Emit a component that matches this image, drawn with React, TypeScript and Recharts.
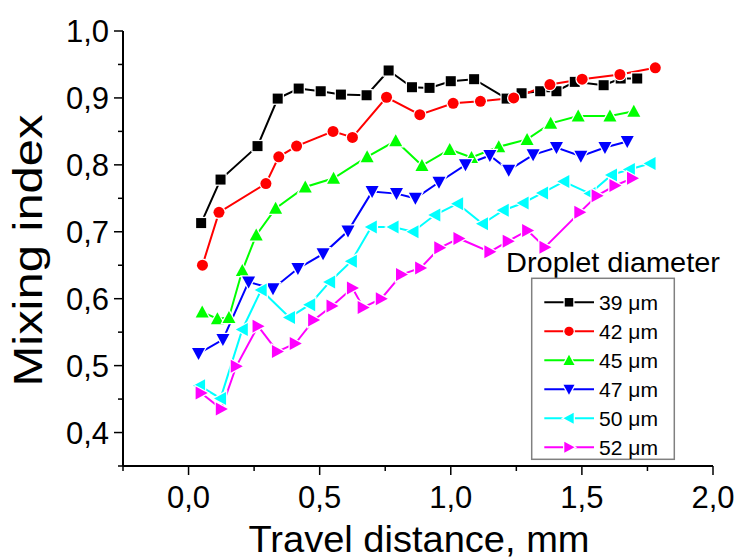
import { LineChart, Line, XAxis, YAxis, Legend, Label } from 'recharts';

const FONT = '"Liberation Sans", Arial, Helvetica, sans-serif';

// Travel distance, mm
const dist39 = [0.048, 0.122, 0.263, 0.34, 0.42, 0.504, 0.581, 0.679, 0.763, 0.852, 0.919, 1.0, 1.089, 1.213, 1.27, 1.341, 1.403, 1.473, 1.583, 1.648, 1.711];
const dist42 = [0.053, 0.116, 0.295, 0.344, 0.412, 0.551, 0.625, 0.755, 0.882, 1.009, 1.113, 1.24, 1.378, 1.501, 1.645, 1.78];
const dist45 = [0.052, 0.11, 0.154, 0.205, 0.258, 0.332, 0.445, 0.553, 0.681, 0.79, 0.89, 0.996, 1.079, 1.183, 1.291, 1.381, 1.486, 1.607, 1.698];
const dist47 = [0.038, 0.131, 0.229, 0.322, 0.417, 0.513, 0.608, 0.7, 0.793, 0.865, 0.955, 1.056, 1.149, 1.221, 1.314, 1.403, 1.496, 1.588, 1.673];
const dist50 = [0.042, 0.122, 0.205, 0.277, 0.385, 0.462, 0.538, 0.621, 0.697, 0.78, 0.856, 0.939, 1.026, 1.121, 1.2, 1.276, 1.35, 1.431, 1.531, 1.613, 1.681, 1.76];
const dist52 = [0.048, 0.125, 0.182, 0.265, 0.339, 0.407, 0.477, 0.547, 0.625, 0.666, 0.735, 0.812, 0.885, 0.958, 1.031, 1.149, 1.219, 1.293, 1.359, 1.492, 1.558, 1.626, 1.693];

// Mixing index
const mix39 = [0.713, 0.778, 0.828, 0.899, 0.914, 0.91, 0.905, 0.904, 0.941, 0.916, 0.915, 0.925, 0.928, 0.899, 0.907, 0.91, 0.91, 0.924, 0.919, 0.929, 0.929];
const mix42 = [0.65, 0.729, 0.772, 0.812, 0.828, 0.85, 0.841, 0.901, 0.875, 0.892, 0.895, 0.9, 0.92, 0.928, 0.935, 0.945];
const mix45 = [0.58, 0.57, 0.572, 0.642, 0.695, 0.735, 0.767, 0.78, 0.812, 0.836, 0.799, 0.823, 0.811, 0.827, 0.838, 0.862, 0.873, 0.873, 0.88];
const mix47 = [0.518, 0.539, 0.625, 0.615, 0.645, 0.667, 0.701, 0.76, 0.757, 0.75, 0.774, 0.8, 0.814, 0.792, 0.815, 0.826, 0.813, 0.826, 0.835];
const mix50 = [0.47, 0.451, 0.554, 0.613, 0.572, 0.591, 0.625, 0.656, 0.707, 0.707, 0.7, 0.725, 0.742, 0.712, 0.732, 0.743, 0.758, 0.775, 0.757, 0.785, 0.793, 0.802];
const mix52 = [0.459, 0.435, 0.499, 0.559, 0.521, 0.533, 0.568, 0.589, 0.616, 0.587, 0.6, 0.636, 0.646, 0.676, 0.69, 0.67, 0.686, 0.702, 0.677, 0.729, 0.754, 0.769, 0.78];

const xTicks = [-0.25, 0, 0.25, 0.5, 0.75, 1.0, 1.25, 1.5, 1.75, 2.0];
const yTicks = [0.35, 0.4, 0.45, 0.5, 0.55, 0.6, 0.65, 0.7, 0.75, 0.8, 0.85, 0.9, 0.95, 1.0];

type Shape = 'square' | 'circle' | 'up' | 'down' | 'left' | 'right';

const zip = (xs: number[], ys: number[]) => xs.map((x, i) => ({ x, y: ys[i] }));

const series = [
  { name: '39 μm', color: '#000000', shape: 'square' as Shape, data: zip(dist39, mix39) },
  { name: '42 μm', color: '#ff0000', shape: 'circle' as Shape, data: zip(dist42, mix42) },
  { name: '45 μm', color: '#00ff00', shape: 'up' as Shape, data: zip(dist45, mix45) },
  { name: '47 μm', color: '#0000ff', shape: 'down' as Shape, data: zip(dist47, mix47) },
  { name: '50 μm', color: '#00ffff', shape: 'left' as Shape, data: zip(dist50, mix50) },
  { name: '52 μm', color: '#ff00ff', shape: 'right' as Shape, data: zip(dist52, mix52) },
];

const fmt = (v: number) => v.toFixed(1).replace('.', ',');

// symbol with a white halo so the line stops short of it
const Marker = ({ shape, cx, cy, color, k = 1 }: { shape: Shape; cx: number; cy: number; color: string; k?: number }) => {
  const common = { fill: color, stroke: '#fff', strokeWidth: 2.5, paintOrder: 'stroke' as any };
  const a = 6.5 * k;
  const b = 5.5 * k;
  switch (shape) {
    case 'square':
      return <rect x={cx - 5 * k} y={cy - 5 * k} width={10 * k} height={10 * k} {...common} />;
    case 'circle':
      return <circle cx={cx} cy={cy} r={5.5 * k} {...common} />;
    case 'up':
      return <polygon points={`${cx},${cy - a} ${cx + a},${cy + b} ${cx - a},${cy + b}`} {...common} />;
    case 'down':
      return <polygon points={`${cx},${cy + a} ${cx + a},${cy - b} ${cx - a},${cy - b}`} {...common} />;
    case 'left':
      return <polygon points={`${cx - a},${cy} ${cx + b},${cy - a} ${cx + b},${cy + a}`} {...common} />;
    default:
      return <polygon points={`${cx + a},${cy} ${cx - b},${cy - a} ${cx - b},${cy + a}`} {...common} />;
  }
};

const XTick = (props: any) => {
  const { x, y, payload } = props;
  const v = payload.value;
  const major = Math.abs(v * 2 - Math.round(v * 2)) < 1e-6;
  return (
    <g>
      <line x1={x} x2={x} y1={y} y2={y + (major ? 9 : 5)} stroke="#000" strokeWidth={1.5} />
      {major && (
        <text x={x} y={y + 42} textAnchor="middle" fontSize={31} fontFamily={FONT} fill="#000">
          {fmt(v)}
        </text>
      )}
    </g>
  );
};

const YTick = (props: any) => {
  const { x, y, payload } = props;
  const v = payload.value;
  const major = Math.abs(v * 10 - Math.round(v * 10)) < 1e-6;
  return (
    <g>
      <line x1={x} x2={x - (major ? 9 : 5)} y1={y} y2={y} stroke="#000" strokeWidth={1.5} />
      {major && (
        <text x={x - 14} y={y + 11} textAnchor="end" fontSize={31} fontFamily={FONT} fill="#000">
          {fmt(v)}
        </text>
      )}
    </g>
  );
};

const LegendBox = () => (
  <svg width={230} height={230} style={{ overflow: 'visible' }}>
    <text x={6} y={31.7} fontSize={28.5} fontFamily={FONT} fill="#000" textLength={214} lengthAdjust="spacingAndGlyphs">
      Droplet diameter
    </text>
    <rect x={31.7} y={38.3} width={142.6} height={181} fill="#fff" stroke="#808080" strokeWidth={1.5} />
    {series.map((s, i) => {
      const cy = 62.3 + i * 29;
      return (
        <g key={s.name}>
          <line x1={44.3} x2={94} y1={cy} y2={cy} stroke={s.color} strokeWidth={2} />
          <Marker shape={s.shape} cx={69} cy={cy} color={s.color} k={0.85} />
          <text x={99} y={cy + 7.5} fontSize={21} fontFamily={FONT} fill="#000" textLength={59} lengthAdjust="spacingAndGlyphs">
            {s.name}
          </text>
        </g>
      );
    })}
  </svg>
);

export default function App() {
  return (
    <div style={{ position: 'absolute', left: 0, top: 0, width: 743, height: 559, background: '#fff' }}>
      <LineChart width={743} height={559} margin={{ top: 31, right: 30, bottom: 0, left: 0 }}>
        <XAxis
          type="number"
          dataKey="x"
          domain={[-0.25, 2]}
          ticks={xTicks}
          allowDataOverflow
          height={93}
          tickSize={0}
          tickMargin={0}
          tickLine={false}
          tick={<XTick />}
          axisLine={{ stroke: '#000', strokeWidth: 2 }}
        >
          <Label
            content={(p: any) => {
              const vb = p.viewBox;
              return (
                <text x={vb.x + vb.width / 2 + 1} y={551.7} textAnchor="middle" fontSize={37.5} fontFamily={FONT} fill="#000" textLength={341} lengthAdjust="spacingAndGlyphs">
                  Travel distance, mm
                </text>
              );
            }}
          />
        </XAxis>
        <YAxis
          type="number"
          domain={[0.35, 1.0]}
          ticks={yTicks}
          allowDataOverflow
          width={123}
          tickSize={0}
          tickMargin={0}
          tickLine={false}
          tick={<YTick />}
          axisLine={{ stroke: '#000', strokeWidth: 2 }}
        >
          <Label
            content={(p: any) => {
              const vb = p.viewBox;
              const cy = vb.y + vb.height / 2 + 2;
              return (
                <text transform={`translate(41.5, ${cy}) rotate(-90)`} textAnchor="middle" fontSize={40} fontFamily={FONT} fill="#000" textLength={272} lengthAdjust="spacingAndGlyphs">
                  Mixing index
                </text>
              );
            }}
          />
        </YAxis>
        <Legend
          layout="horizontal"
          verticalAlign="middle"
          align="center"
          wrapperStyle={{ position: 'absolute', left: 500, top: 240, width: 230, height: 230 }}
          content={() => <LegendBox />}
        />
        {series.map((s) => (
          <Line
            key={s.name}
            name={s.name}
            data={s.data}
            dataKey="y"
            type="linear"
            stroke={s.color}
            strokeWidth={2}
            isAnimationActive={false}
            activeDot={false}
            dot={(p: any) => <Marker key={`${s.name}-${p.index}`} shape={s.shape} cx={p.cx} cy={p.cy} color={s.color} />}
          />
        ))}
      </LineChart>
    </div>
  );
}
